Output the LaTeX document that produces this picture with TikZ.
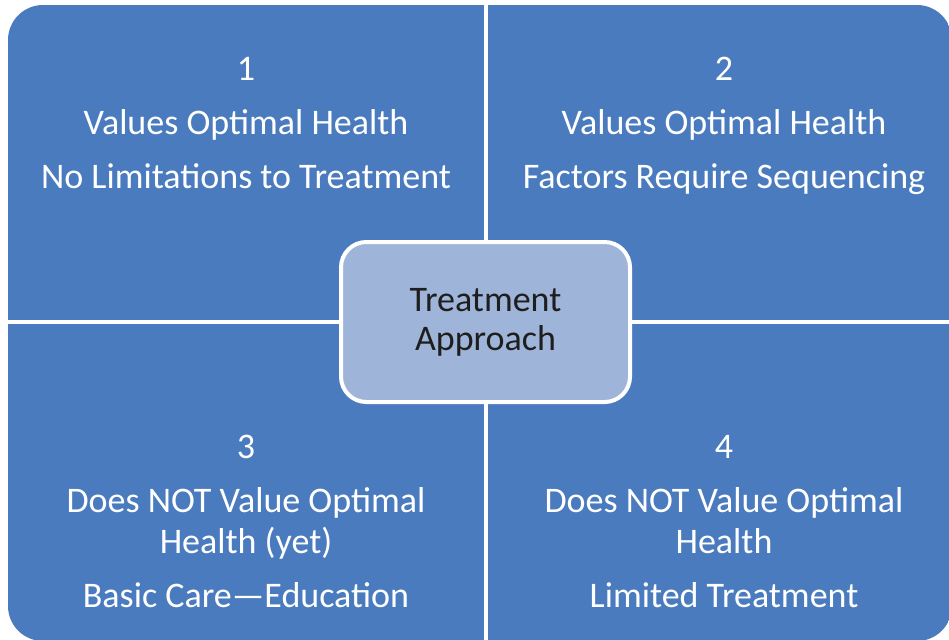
\documentclass[tikz,border=0pt]{standalone}
\usepackage{fontspec}
\setmainfont{Carlito}
\definecolor{quadblue}{RGB}{74,123,190}
\definecolor{hubblue}{RGB}{158,180,216}
\definecolor{hubtext}{RGB}{30,30,30}
\tikzset{
  quadtext/.style={text=white, align=center, inner sep=0pt, anchor=north,
    font=\fontsize{27}{30.75}\selectfont},
  hub/.style={draw=white, line width=3pt, fill=hubblue, rounded corners=19pt,
    minimum width=216.75pt, minimum height=120pt, align=center, text=hubtext,
    font=\fontsize{27}{29.25}\selectfont}
}

\begin{document}
\begin{tikzpicture}[x=0.75pt, y=-0.75pt]
        \useasboundingbox (0,0) rectangle (949,639);
        % four quadrants inside one rounded outline
        \begin{scope}
            \clip [rounded corners=26.25pt] (8,5) rectangle (952,641);
            \fill [quadblue] (8,5) rectangle (484,320);
            \fill [quadblue] (488,5) rectangle (952,320);
            \fill [quadblue] (8,324) rectangle (484,641);
            \fill [quadblue] (488,324) rectangle (952,641);
        \end{scope}
        \node [quadtext] (q1) at (246,57) {1\\[9.75pt]Values Optimal Health\\[9.75pt]No Limitations to Treatment};
        \node [quadtext] (q2) at (724,57) {2\\[9.75pt]Values Optimal Health\\[9.75pt]Factors Require Sequencing};
        \node [quadtext] (q3) at (246,435) {3\\[9.75pt]Does NOT Value Optimal\\Health (yet)\\[9.75pt]Basic Care---Education};
        \node [quadtext] (q4) at (724,435) {4\\[9.75pt]Does NOT Value Optimal\\Health\\[9.75pt]Limited Treatment};
        \node [hub] (hub) at (485.5,322) {Treatment\\Approach};
    \end{tikzpicture}
\end{document}
